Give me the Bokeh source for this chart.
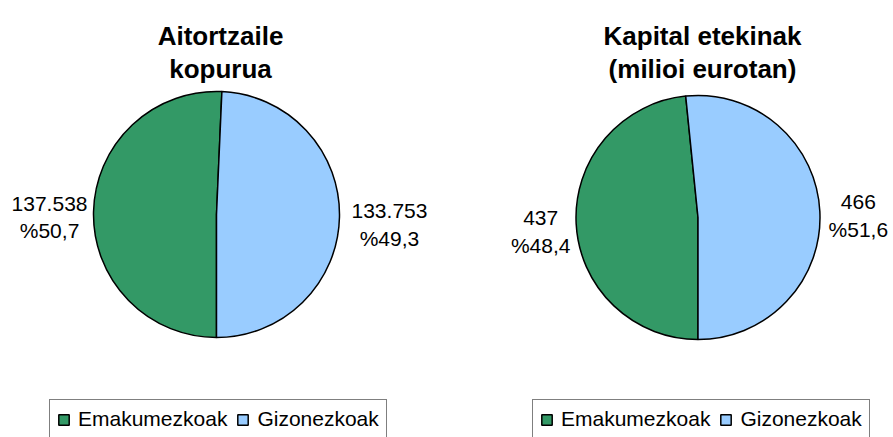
import math
from bokeh.plotting import figure
from bokeh.models import Range1d, ColumnDataSource, Legend, LegendItem
from bokeh.core.properties import value
from bokeh.embed import file_html
from bokeh.resources import INLINE

# ---------------- data ----------------
categories = ["Emakumezkoak", "Gizonezkoak"]
colors = ["#339966", "#99CCFF"]
title_left = ["Aitortzaile", "kopurua"]
title_right = ["Kapital etekinak", "(milioi eurotan)"]
declarants = [137538, 133753]      # Aitortzaile kopurua
capital_income = [437, 466]        # Kapital etekinak (milioi eurotan)

# ---------------- layout (page pixel coords, y downwards) ----------------
W, H = 893, 437
FONT = "Liberation Sans"

def Y(py):
    return H - py

p = figure(width=W, height=H, output_backend="svg", toolbar_location=None,
           x_range=Range1d(0, W), y_range=Range1d(0, H),
           x_axis_type=None, y_axis_type=None, min_border=0,
           outline_line_color=None, background_fill_color="white",
           border_fill_color="white")
p.grid.visible = False


def fmt_int(v):
    return f"{v:,}".replace(",", ".")


def fmt_pct(v):
    return "%" + f"{v:.1f}".replace(".", ",")


def draw_pie(vals, cx, cy, r, dists, title, tx):
    total = float(sum(vals))
    shares = [v / total for v in vals]
    # start at 6 o'clock, counter-clockwise: Gizonezkoak first, then Emakumezkoak
    start = -math.pi / 2
    a_giz_end = start + 2 * math.pi * shares[1]
    starts = [a_giz_end, start]
    ends = [start + 2 * math.pi, a_giz_end]
    src = ColumnDataSource(dict(start=starts, end=ends, color=colors,
                                label=categories))
    rend = p.wedge(x=cx, y=Y(cy), radius=r, start_angle="start", end_angle="end",
                   fill_color="color", line_color="black", line_width=1.5,
                   source=src)
    # data labels
    for i in range(2):
        mid = (starts[i] + ends[i]) / 2
        lx = cx + dists[i] * math.cos(mid)
        ly = Y(cy) + dists[i] * math.sin(mid)
        p.text(x=[lx, lx], y=[ly + 7, ly - 20],
               text=[fmt_int(vals[i]), fmt_pct(100 * shares[i])],
               text_font=value(FONT), text_font_size="21px",
               text_align="center", text_baseline="alphabetic",
               text_color="black")
    # title
    p.text(x=[tx, tx], y=[Y(35), Y(68)], text=title,
           text_font=value(FONT), text_font_size="26px", text_font_style="bold",
           text_align="center", text_baseline="alphabetic", text_color="black")
    return rend


r1 = draw_pie(declarants, 216, 214, 123, [167, 173], title_left, 220)
r2 = draw_pie(capital_income, 697.5, 217, 122, [157.5, 160.5], title_right, 702)


def make_legend(rend, x):
    lg = Legend(items=[LegendItem(label=categories[0], renderers=[rend], index=0),
                       LegendItem(label=categories[1], renderers=[rend], index=1)],
                orientation="horizontal", location=(x, -2),
                padding=7, spacing=9, margin=0,
                glyph_width=13, glyph_height=13, label_standoff=8,
                label_height=20, label_width=10,
                label_text_font=FONT, label_text_font_size="21px",
                label_text_color="black",
                border_line_color="black", border_line_width=1,
                background_fill_color="white", background_fill_alpha=1.0)
    p.add_layout(lg)


make_legend(r1, 49)
make_legend(r2, 532)

open("out.html", "w").write(file_html(p, INLINE))
